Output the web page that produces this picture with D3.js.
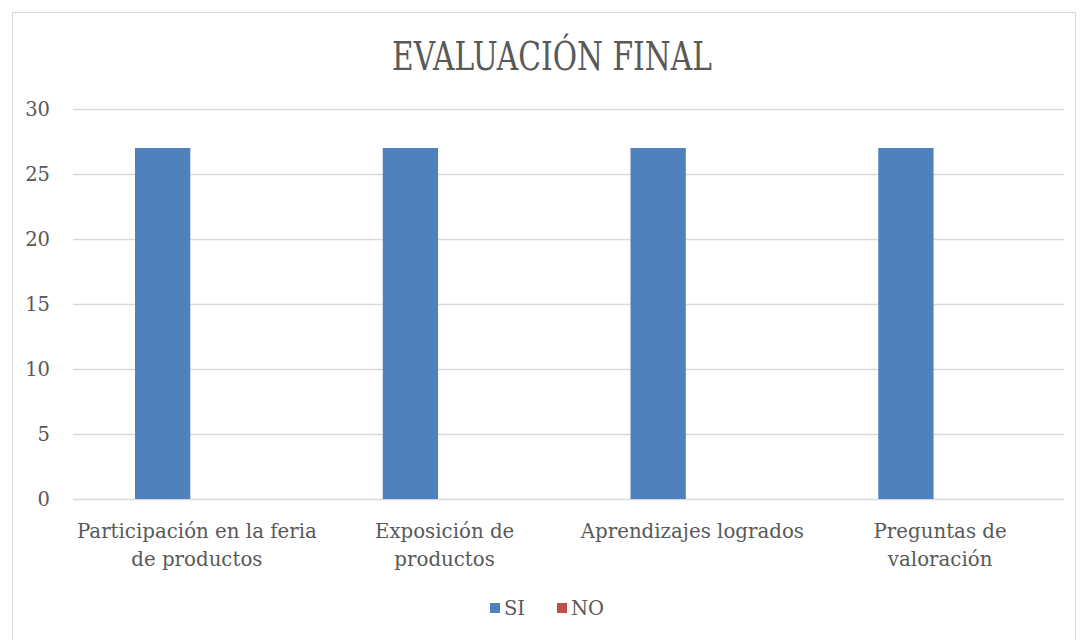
<!DOCTYPE html>
<html>
<head>
<meta charset="utf-8">
<script src="https://cdn.jsdelivr.net/npm/d3@7"></script>
<style>
  body { margin: 0; background: #fff; }
  text { font-family: "DejaVu Serif", "Liberation Serif", serif; fill: #595959; }
</style>
</head>
<body>
<svg id="chart" width="1081" height="640"></svg>
<script>
var categories = [['Participación en la feria', 'de productos'], ['Exposición de', 'productos'], ['Aprendizajes logrados'], ['Preguntas de', 'valoración']]
var seriesNames = ['SI', 'NO']
var siValues = [27, 27, 27, 27]
var noValues = [0, 0, 0, 0]
var yTicks = [0, 5, 10, 15, 20, 25, 30]
var colors = {'SI': '#4f81bd', 'NO': '#c0504d'}

var svg = d3.select('#chart')

// outer chart frame
svg.append('rect').attr('x', 12.5).attr('y', 12.5).attr('width', 1063).attr('height', 660)
    .style('fill', 'none').style('stroke', '#d9d9d9').style('stroke-width', 1)

var plotLeft = 73, plotRight = 1064, plotTop = 109, plotBottom = 499

var keys = categories.map(c => c.join(' '))
var x0 = d3.scaleBand().domain(keys).range([plotLeft, plotRight]).paddingInner(0).paddingOuter(0)
var x1 = d3.scaleBand().domain(seriesNames).range([62, 62 + 110.6])
var y = d3.scaleLinear().domain([0, 30]).range([plotBottom, plotTop])

// gridlines
svg.append('g').selectAll('line').data(yTicks).enter().append('line')
    .attr('x1', plotLeft).attr('x2', plotRight)
    .attr('y1', d => y(d) + 0.5).attr('y2', d => y(d) + 0.5)
    .style('stroke', '#d9d9d9').style('stroke-width', 1.3)

// y labels
svg.append('g').selectAll('text').data(yTicks).enter().append('text')
    .attr('x', 50).attr('y', d => y(d) + 7)
    .attr('text-anchor', 'end')
    .style('font-size', '19.5px')
    .text(d => d)

// bars
var rows = keys.map((k, i) => ({key: k, SI: siValues[i], NO: noValues[i]}))
var groups = svg.append('g').selectAll('g').data(rows).enter().append('g')
    .attr('transform', d => `translate(${x0(d.key)},0)`)
groups.selectAll('rect').data(d => seriesNames.map(s => ({s: s, v: d[s]}))).enter().append('rect')
    .attr('x', d => x1(d.s)).attr('width', x1.bandwidth())
    .attr('y', d => y(d.v)).attr('height', d => y(0) - y(d.v))
    .style('fill', d => colors[d.s])

// category labels
var catLabels = svg.append('g').selectAll('text').data(categories).enter().append('text')
    .attr('text-anchor', 'middle')
    .style('font-size', '19.8px')
catLabels.each(function(lines, i) {
    var cx = x0(keys[i]) + x0.bandwidth() / 2
    d3.select(this).selectAll('tspan').data(lines).enter().append('tspan')
        .attr('x', cx).attr('y', (d, j) => 538 + j * 28)
        .text(d => d)
})

// title
svg.append('text').attr('x', 552).attr('y', 70).attr('text-anchor', 'middle')
    .style('font-size', '40px').attr('textLength', 320).attr('lengthAdjust', 'spacingAndGlyphs')
    .text('EVALUACIÓN FINAL')

// legend
var legendItems = [{s: 'SI', x: 490}, {s: 'NO', x: 557}]
var lg = svg.append('g').selectAll('g').data(legendItems).enter().append('g')
lg.append('rect').attr('x', d => d.x).attr('y', 603).attr('width', 10).attr('height', 10)
    .style('fill', d => colors[d.s])
lg.append('text').attr('x', d => d.x + 14).attr('y', 615).style('font-size', '19.5px').text(d => d.s)
</script>
</body>
</html>
